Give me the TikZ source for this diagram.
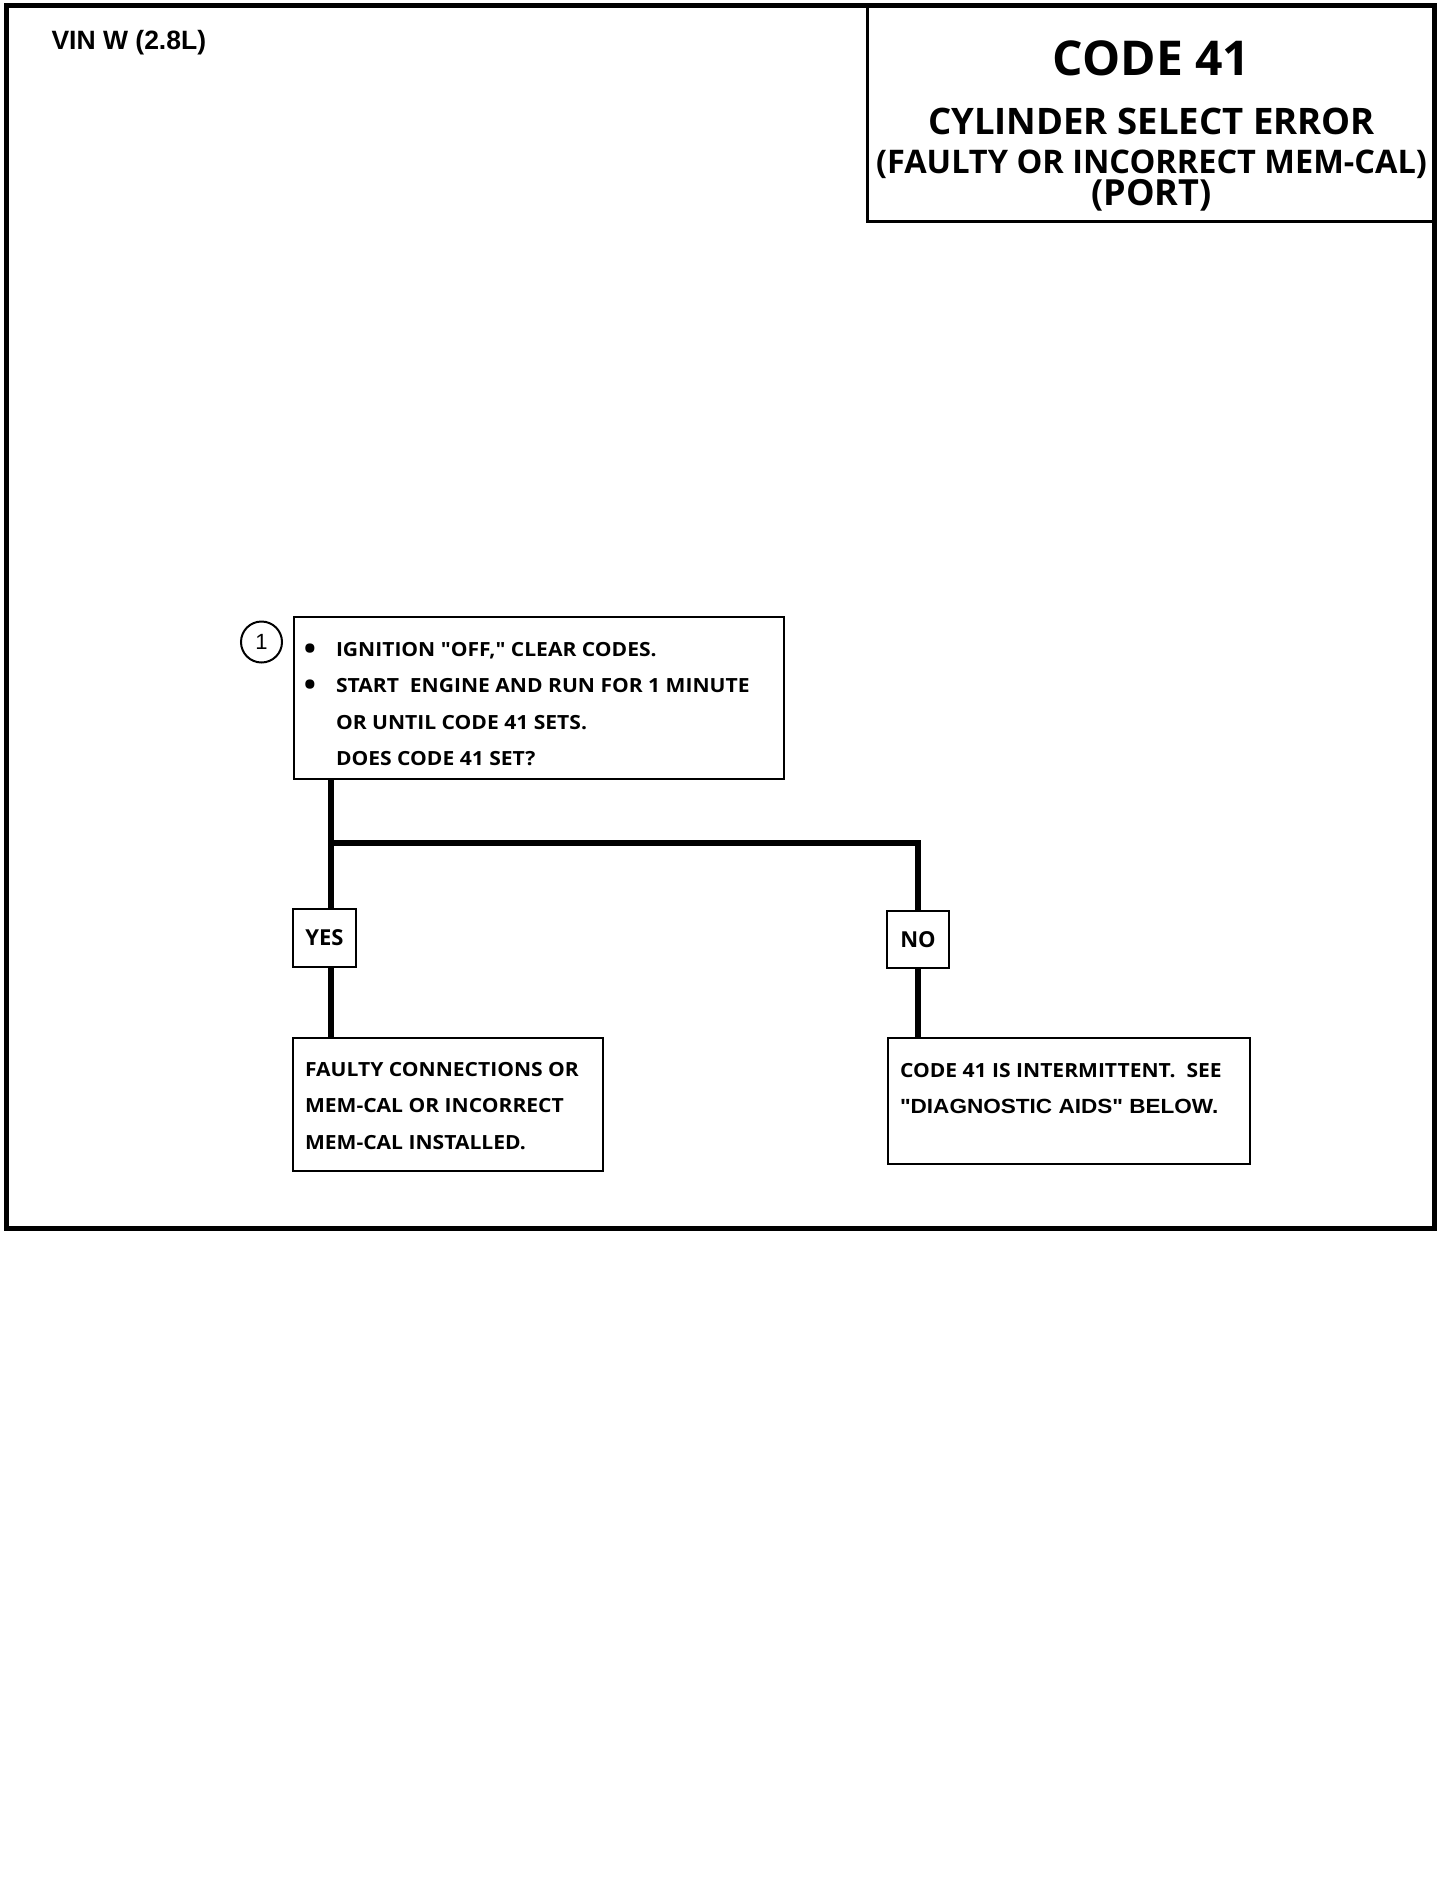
\documentclass[tikz,border=0pt]{standalone}
\usepackage{fontspec}
\usepackage{tikz}
\usetikzlibrary{positioning}
\newfontfamily\titlefont{Open Sans}
\newfontfamily\bodyfont[FakeStretch=1.08]{Open Sans}
\newfontfamily\helvfont{Liberation Sans}
\newfontfamily\helvwide[FakeStretch=1.1]{Liberation Sans}
\tikzset{
  frameline/.style={line width=5pt},
  headbox/.style={draw, line width=3pt, inner sep=0pt, anchor=north west,
                  align=center, font=\titlefont\bfseries},
  stepbox/.style={draw, line width=2pt, inner sep=0pt, anchor=north west,
                  align=left, font=\bodyfont\bfseries\fontsize{19.5}{36.5}\selectfont,
                  execute at begin node={\spaceskip=0pt\xspaceskip=0pt}},
  answer/.style={draw, line width=2pt, inner sep=0pt, minimum width=63pt,
                 minimum height=58pt, font=\titlefont\bfseries\fontsize{22}{22}\selectfont},
  stepnum/.style={circle, draw, line width=2pt, minimum size=41pt, inner sep=0pt,
                  font=\helvfont\fontsize{22}{22}\selectfont},
  flowline/.style={line width=6.5pt},
}
\newcommand{\bul}{\leavevmode\llap{\raisebox{-3pt}{\fontsize{30}{0}\selectfont\char"2022}\hspace{20pt}}}
\newcommand{\tsize}[1]{\fontsize{#1}{0}\selectfont\spaceskip=0.26em\relax}

\begin{document}
\begin{tikzpicture}[x=1pt, y=-1pt]
  \fill[white] (0,0) rectangle (1456,1904);
  \useasboundingbox (0,0) rectangle (1456,1904);

  % outer frame and heading
  \draw[frameline] (6,5) rectangle (1434,1228);
  \node[anchor=base west, font=\helvfont\bfseries\fontsize{26.5}{26.5}\selectfont]
    (vin) at (48,49) {VIN W (2.8L)};
  \node[headbox, text width=568pt, text height=69pt, text depth=146pt] (title) at (866,5)
    {\lineskiplimit=-1000pt
     \tsize{48}CODE 41\\[59pt]
     \tsize{36.5}CYLINDER SELECT ERROR\\[39pt]
     \tsize{32.5}(FAULTY OR INCORRECT MEM-CAL)\\[32pt]
     \tsize{36}(PORT)\par};

  % step 1
  \node[stepbox, text width=490pt, text height=39pt, text depth=123pt] (q1box) at (293,616)
    {\leftskip=42pt\relax
     \bul IGNITION "OFF," CLEAR CODES.\\
     \bul START\ \ ENGINE AND RUN FOR 1 MINUTE\\
     OR UNTIL CODE 41 SETS.\\
     DOES CODE 41 SET?\par};
  \node[stepnum, left=10pt of q1box.north west, yshift=-26pt] (stepone) {1};

  \node[answer] (yesbox) at (324.5,938) {YES};
  \node[answer, minimum width=62pt, minimum height=57pt] (nobox) at (918,939.5) {NO};

  \node[stepbox, text width=310pt, text height=38pt, text depth=95pt] (faultbox) at (292,1037)
    {\leftskip=12pt\relax
     FAULTY CONNECTIONS OR\\
     MEM-CAL OR INCORRECT\\
     MEM-CAL INSTALLED.\par};
  \node[stepbox, text width=362pt, text height=39pt, text depth=87pt] (intbox) at (887,1037)
    {\leftskip=12pt\relax
     CODE 41 IS INTERMITTENT.\ \ SEE\\
     {\helvwide\bfseries\fontsize{20.5}{36.5}\selectfont "DIAGNOSTIC AIDS" BELOW.}\par};

  % connectors
  \coordinate (split) at (331,843);
  \draw[flowline] (q1box.south -| split) -- (yesbox.north -| split);
  \draw[flowline] (split) -| (nobox.north);
  \draw[flowline] (yesbox.south -| split) -- (faultbox.north -| split);
  \draw[flowline] (nobox.south) -- (nobox.south |- intbox.north);

\end{tikzpicture}
\end{document}
